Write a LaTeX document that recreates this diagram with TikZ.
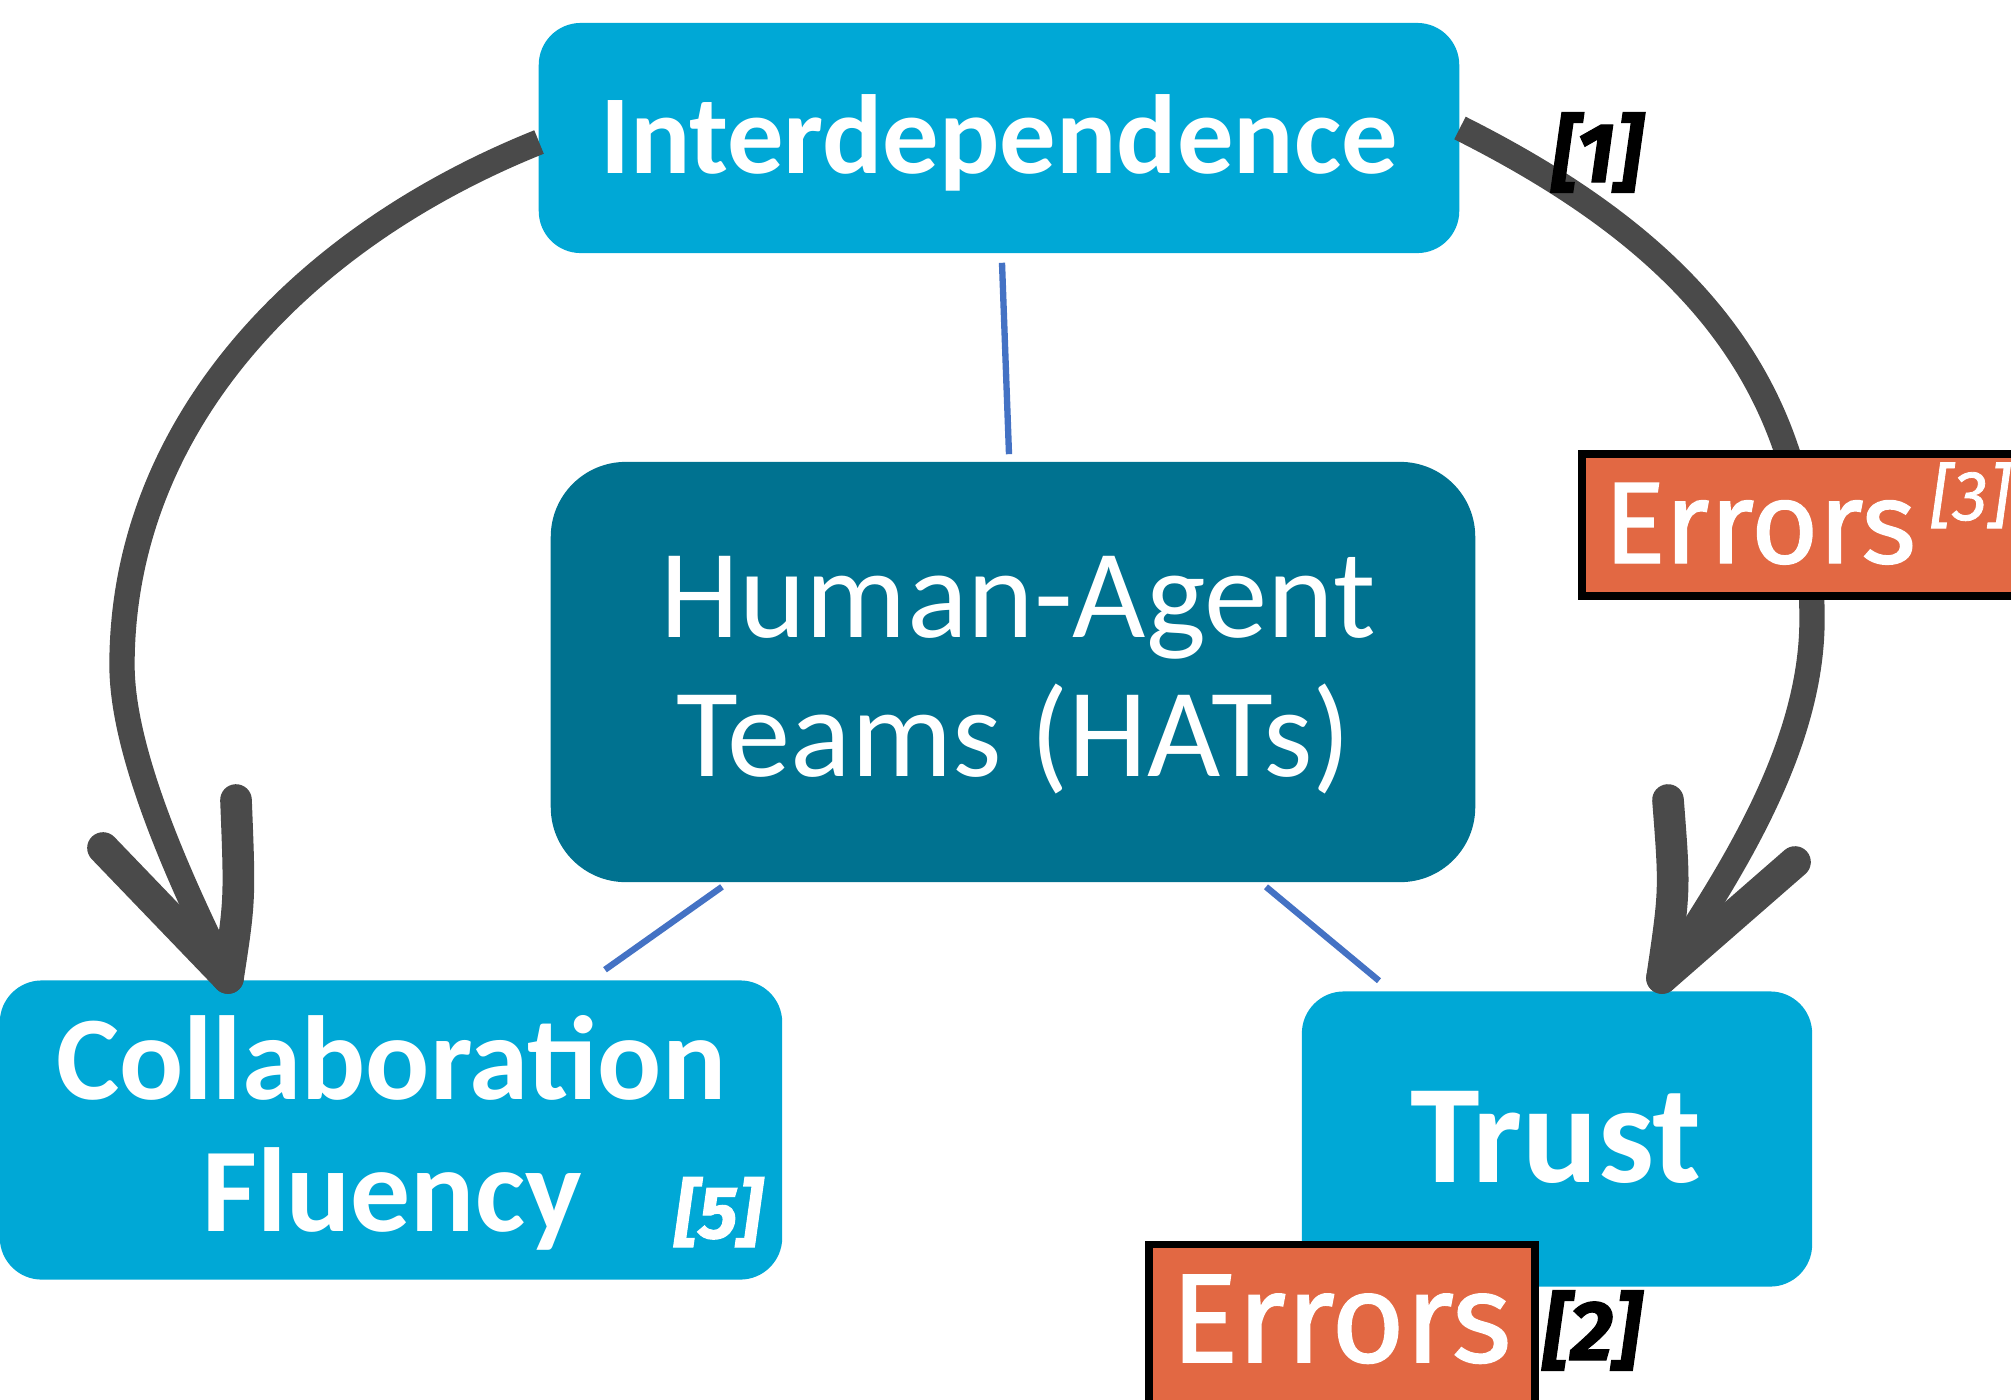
\documentclass[tikz,border=0pt]{standalone}
\usepackage{fontspec}
\setmainfont{Carlito}
\newfontfamily\errfont[FakeBold=1.2]{Fira Sans}
\newfontfamily\reffont[FakeBold=1.5]{Fira Sans}
\usetikzlibrary{calc}
\definecolor{lblue}{RGB}{0,168,214}
\definecolor{hatcol}{RGB}{0,114,144}
\definecolor{errcol}{RGB}{226,104,67}
\definecolor{arrcol}{RGB}{74,74,74}
\definecolor{linkcol}{RGB}{68,114,196}
\begin{document}
\begin{tikzpicture}[x=0.01cm,y=-0.01cm,
  lbox/.style={fill=lblue, draw=none, rounded corners=0.42cm, inner sep=0pt},
  hbox/.style={fill=hatcol, draw=none, rounded corners=0.75cm, inner sep=0pt},
  ebox/.style={fill=errcol, draw=black, line width=2.2pt, inner sep=0pt},
  txt/.style={text=white, inner sep=0pt, anchor=base},
  link/.style={draw=linkcol, line width=1.8pt},
  bigarrow/.style={draw=arrcol, line width=7.2pt, line cap=butt},
  barb/.style={draw=arrcol, line width=9pt, line cap=round},
  reftxt/.style={inner sep=0pt, anchor=base west, font=\reffont\bfseries\itshape\fontsize{24}{28}\selectfont}
]
\useasboundingbox (0,0) rectangle (2011,1399);
\clip (0,0) rectangle (2011,1399);

% main boxes
\node[lbox, minimum width=9.2cm, minimum height=2.3cm] (inter) at (999,138) {};
\node[hbox, minimum width=9.24cm, minimum height=4.2cm] (hat) at (1013,672) {};
\node[lbox, minimum width=7.82cm, minimum height=2.99cm] (collab) at (391,1130) {};
\node[lbox, minimum width=5.1cm, minimum height=2.95cm] (trust) at (1557,1139) {};

% thin links
\draw[link] ([shift={(3,9)}]inter.south) -- ([shift={(-4,-7)}]hat.north);
\draw[link] ([shift={(-291,4)}]hat.south) -- ([shift={(214,-10)}]collab.north);
\draw[link] ([shift={(253,4)}]hat.south) -- ([shift={(-178,-10)}]trust.north);

% texts in boxes
\node[txt, font=\fontsize{32}{38}\selectfont\bfseries] (intertxt) at (999,173) {Interdependence};
\node[txt, font=\fontsize{36}{42}\selectfont] (hat1) at (1018,637) {Human-Agent};
\node[txt, font=\fontsize{36}{42}\selectfont] (hat2) at (1014,776) {Teams (HATs)};
\node[txt, font=\fontsize{34}{40}\selectfont\bfseries] (col1) at (391,1099) {Collaboration};
\node[txt, font=\fontsize{34}{40}\selectfont\bfseries] (col2) at (392,1231) {Fluency};
\node[txt, font=\reffont\bfseries\itshape\fontsize{21}{25}\selectfont] (ref5) at (718,1238) {[5]};
\node[txt, font=\fontsize{40}{48}\selectfont\bfseries] (trusttxt) at (1556,1182) {Trust};

% big arrows
\coordinate (tipL) at (228,978);
\coordinate (barbL1) at (103,848);
\coordinate (barbL2) at (236,800);
\draw[bigarrow] ([shift={(1,4)}]inter.west) .. controls (295,240) and (122,430) .. (122,665)
  .. controls (122,760) and (190,900) .. (tipL);
\draw[barb] (tipL) -- (barbL1);
\draw[barb] (tipL) .. controls (240,900) .. (barbL2);

\coordinate (tipR) at (1662,978);
\coordinate (barbR1) at (1668,800);
\coordinate (barbR2) at (1795,862);
\draw[bigarrow] ([shift={(0,-10)}]inter.east) .. controls (1709,253) and (1812,400) .. (1812,620)
  .. controls (1812,760) and (1712,898) .. (tipR);
\draw[barb] (tipR) .. controls (1675,890) .. (barbR1);
\draw[barb] (tipR) -- (barbR2);

% error boxes
\node[ebox, minimum width=5.18cm, minimum height=1.42cm] (err3) at (1841,525) {};
\node[txt, anchor=base west, font=\errfont\fontsize{33}{40}\selectfont] (err3txt) at (1603,563) {Errors};
\node[txt, anchor=base west, font=\errfont\itshape\fontsize{20}{24}\selectfont] (ref3) at (1930,520) {[3]};

\node[ebox, minimum width=3.86cm, minimum height=1.95cm] (err2) at (1342,1342) {};
\node[txt, anchor=base west, font=\errfont\fontsize{36}{42}\selectfont] (err2txt) at (1170,1362) {Errors};

% reference labels
\node[reftxt] (ref2) at (1543,1360) {[2]};
\node[reftxt] (ref1) at (1552,182) {[1]};
\end{tikzpicture}
\end{document}
